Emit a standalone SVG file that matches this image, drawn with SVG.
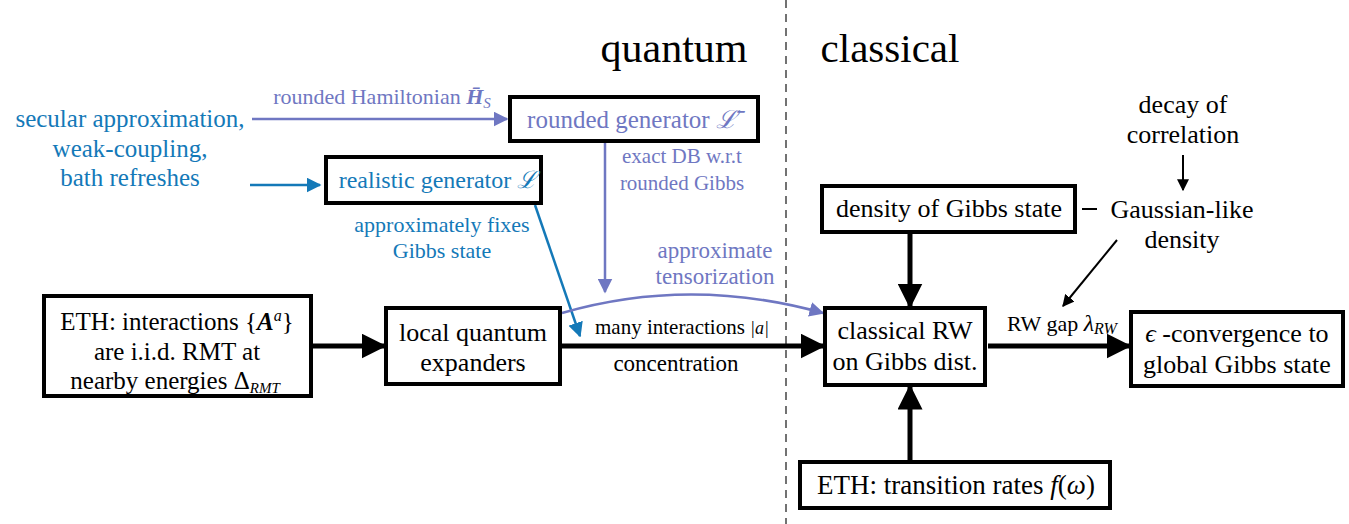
<svg xmlns="http://www.w3.org/2000/svg" width="1349" height="524" viewBox="0 0 1349 524">
<style>
text{font-family:"Liberation Serif","DejaVu Serif",serif;}
.box{fill:#fff;stroke:#000;stroke-width:4;}
.t{fill:#000;text-anchor:middle;}
.p{fill:#6f77c2;}
.b{fill:#1479b8;}
.m{font-style:italic;}
.thick{stroke:#000;stroke-width:5;fill:none;}
.thin{stroke:#000;stroke-width:2;fill:none;}
.pl{stroke:#6f77c2;stroke-width:2.5;fill:none;}
.bl{stroke:#1479b8;stroke-width:2.5;fill:none;}
</style>
<defs>
<marker id="ah" viewBox="0 0 10 10" refX="9" refY="5" markerWidth="5" markerHeight="5" orient="auto" markerUnits="strokeWidth"><path d="M0,0 L10,5 L0,10 z" fill="#000"/></marker>
<marker id="ahs" viewBox="0 0 10 10" refX="9" refY="5" markerWidth="6" markerHeight="6" orient="auto" markerUnits="strokeWidth"><path d="M0,0 L10,5 L0,10 z" fill="#000"/></marker>
<marker id="ahp" viewBox="0 0 10 10" refX="9" refY="5" markerWidth="6" markerHeight="6" orient="auto" markerUnits="strokeWidth"><path d="M0,0 L10,5 L0,10 z" fill="#6f77c2"/></marker>
<marker id="ahb" viewBox="0 0 10 10" refX="9" refY="5" markerWidth="6" markerHeight="6" orient="auto" markerUnits="strokeWidth"><path d="M0,0 L10,5 L0,10 z" fill="#1479b8"/></marker>
</defs>
<rect width="1349" height="524" fill="#fff"/>
<line x1="786" y1="0" x2="786" y2="524" stroke="#444" stroke-width="1.5" stroke-dasharray="8,6"/>
<text x="674" y="62" font-size="42" text-anchor="middle">quantum</text>
<text x="890" y="62" font-size="41" text-anchor="middle">classical</text>

<g id="connectors">
<line class="pl" x1="252" y1="119" x2="507" y2="119" marker-end="url(#ahp)"/>
<line class="bl" x1="250" y1="185" x2="320" y2="185" marker-end="url(#ahb)"/>
<line class="pl" x1="605" y1="141" x2="605" y2="292" marker-end="url(#ahp)"/>
<line class="bl" x1="535" y1="205" x2="580" y2="336" marker-end="url(#ahb)"/>
<path class="pl" d="M562 313 Q690 276 823 313" marker-end="url(#ahp)"/>
<line class="thick" x1="311" y1="346" x2="384" y2="346" marker-end="url(#ah)"/>
<line class="thick" x1="560" y1="346" x2="823" y2="346" marker-end="url(#ah)"/>
<line class="thick" x1="988" y1="346" x2="1129" y2="346" marker-end="url(#ah)"/>
<line class="thick" x1="910" y1="232" x2="910" y2="306" marker-end="url(#ah)"/>
<line class="thick" x1="910" y1="462" x2="910" y2="387" marker-end="url(#ah)"/>
<line class="thin" x1="1183" y1="155" x2="1183" y2="190" marker-end="url(#ahs)"/>
<line class="thin" x1="1082" y1="209" x2="1097" y2="209"/>
<line class="thin" x1="1117" y1="240" x2="1063" y2="306" marker-end="url(#ahs)"/>
<text x="382" y="104" font-size="22" text-anchor="middle" class="p">rounded Hamiltonian <tspan font-weight="bold" class="m">H̄</tspan><tspan class="m" font-size="15" dy="4">S</tspan></text>
<text x="442" y="232" font-size="22" text-anchor="middle" class="b">approximately fixes</text>
<text x="442" y="258" font-size="22" text-anchor="middle" class="b">Gibbs state</text>
<text x="682" y="163" font-size="21" text-anchor="middle" class="p">exact DB w.r.t</text>
<text x="682" y="190" font-size="21" text-anchor="middle" class="p">rounded Gibbs</text>
<text x="715" y="258" font-size="23" text-anchor="middle" class="p">approximate</text>
<text x="715" y="284" font-size="23" text-anchor="middle" class="p">tensorization</text>
<text x="682" y="334" font-size="21" text-anchor="middle">many interactions <tspan class="m" font-size="18">|a|</tspan></text>
<text x="676" y="371" font-size="23" text-anchor="middle">concentration</text>
<text x="1062" y="331" font-size="22" text-anchor="middle">RW gap <tspan class="m" font-size="24">λ</tspan><tspan class="m" font-size="16" dy="3">RW</tspan></text>
</g>

<g id="src">
<text x="130" y="127" font-size="25" text-anchor="middle" class="b">secular approximation,</text>
<text x="130" y="157" font-size="25" text-anchor="middle" class="b">weak-coupling,</text>
<text x="130" y="186" font-size="25" text-anchor="middle" class="b">bath refreshes</text>
</g>
<g id="rounded">
<rect class="box" x="510" y="97" width="248" height="44"/>
<text class="t p" x="632" y="128" font-size="25">rounded generator  <tspan class="m">ℒ̄</tspan></text>
</g>
<g id="realistic">
<rect class="box" x="326" y="157" width="215" height="46"/>
<text class="t b" x="438" y="188" font-size="24">realistic generator <tspan class="m">ℒ</tspan></text>
</g>
<g id="eth1">
<rect class="box" x="44" y="296" width="267" height="100"/>
<text class="t" x="177" y="330" font-size="25">ETH: interactions  {<tspan font-weight="bold" class="m">A</tspan><tspan class="m" font-size="16" dy="-9">a</tspan><tspan dy="9">}</tspan></text>
<text class="t" x="177" y="360" font-size="25">are i.i.d. RMT at</text>
<text class="t" x="175" y="389" font-size="25">nearby energies  Δ<tspan class="m" font-size="15" dy="4">RMT</tspan></text>
</g>
<g id="lqe">
<rect class="box" x="386" y="308" width="174" height="76"/>
<text class="t" x="473" y="341" font-size="26">local quantum</text>
<text class="t" x="473" y="371" font-size="26">expanders</text>
</g>
<g id="crw">
<rect class="box" x="825" y="308" width="160" height="77"/>
<text class="t" x="905" y="339" font-size="26">classical RW</text>
<text class="t" x="905" y="370" font-size="26">on Gibbs dist.</text>
</g>
<g id="eps">
<rect class="box" x="1131" y="312" width="212" height="74"/>
<text class="t" x="1237" y="342" font-size="26"><tspan class="m">ϵ</tspan> -convergence to</text>
<text class="t" x="1237" y="373" font-size="26">global Gibbs state</text>
</g>
<g id="density">
<rect class="box" x="822" y="186" width="253" height="46"/>
<text class="t" x="949" y="217" font-size="26">density of Gibbs state</text>
</g>
<g id="eth2">
<rect class="box" x="800" y="462" width="310" height="46"/>
<text class="t" x="956" y="494" font-size="27">ETH: transition rates  <tspan class="m">f</tspan>(<tspan class="m">ω</tspan>)</text>
</g>
<g id="decay">
<text class="t" x="1183" y="113" font-size="26">decay of</text>
<text class="t" x="1183" y="143" font-size="26">correlation</text>
</g>
<g id="gauss">
<text class="t" x="1182" y="218" font-size="26">Gaussian-like</text>
<text class="t" x="1182" y="248" font-size="26">density</text>
</g>
</svg>
